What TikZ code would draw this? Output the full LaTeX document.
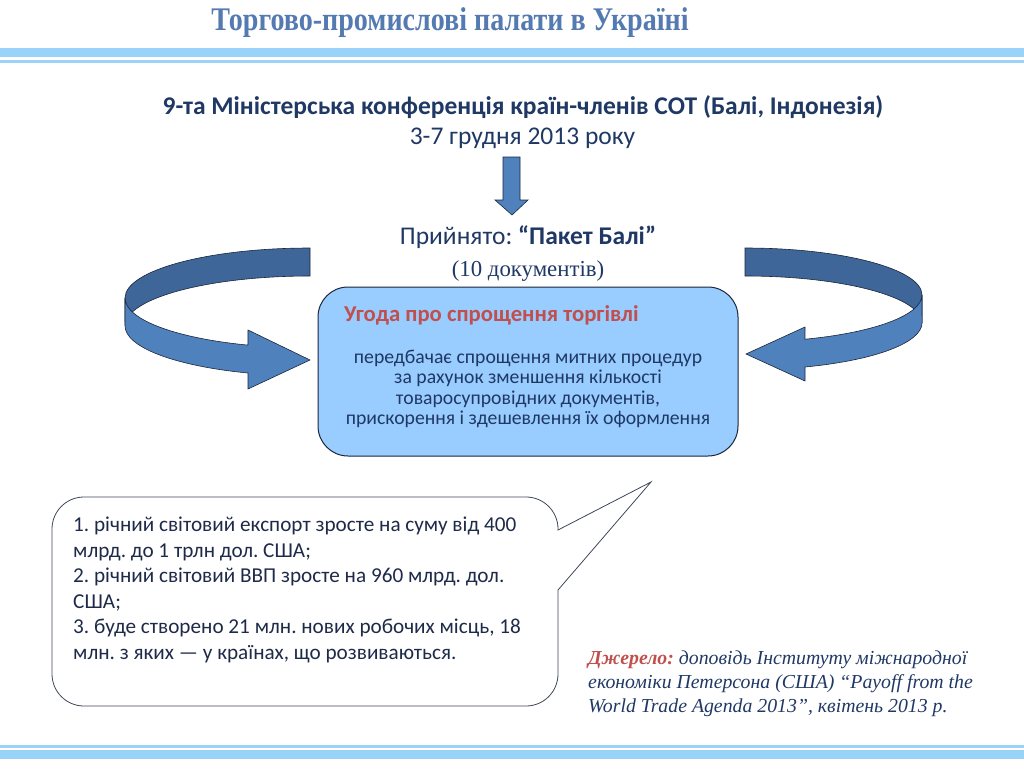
\documentclass[tikz,border=0pt]{standalone}
\usepackage{fontspec}
\setmainfont{Carlito}
\newfontfamily\timesfont{Liberation Serif}
\newfontfamily\titlefont[FakeStretch=0.85]{Liberation Serif}
\usetikzlibrary{positioning}
\definecolor{slideBlue}{RGB}{84,122,178}
\definecolor{bandBlue}{RGB}{153,211,249}
\definecolor{textNavy}{RGB}{31,56,100}
\definecolor{calloutNavy}{RGB}{30,42,72}
\definecolor{boxBlue}{RGB}{153,204,255}
\definecolor{arrowFront}{RGB}{79,129,189}
\definecolor{arrowBack}{RGB}{62,102,152}
\definecolor{edgeDark}{RGB}{28,38,58}
\definecolor{sourceRed}{RGB}{192,80,77}
\frenchspacing

\begin{document}
\begin{tikzpicture}[x=1pt, y=-1pt,
    ribbon/.style={draw=edgeDark, line width=0.6pt},
    slidetext/.style={textNavy, inner sep=0pt}]
      \useasboundingbox (0,0) rectangle (1024,768);
      % header and footer bands
      \fill [bandBlue] (0,48) rectangle (1024,57);
      \fill [bandBlue] (0,60) rectangle (1024,63);
      \fill [bandBlue] (0,745) rectangle (1024,748);
      \fill [bandBlue] (0,750) rectangle (1024,759);

      \node [slideBlue, inner sep=0pt,
             font=\titlefont\bfseries\fontsize{33}{36}\selectfont]
            (title) at (450,23) {Торгово-промислові палати в Україні};

      \node [slidetext, font=\bfseries\fontsize{25.5}{28}\selectfont]
            (conference) at (523,107)
            {9-та Міністерська конференція країн-членів СОТ (Балі, Індонезія)};
      \node [slidetext, font=\fontsize{25.5}{28}\selectfont] (dates)
            at (522.5,138) {3-7 грудня 2013 року};

      \node [slidetext, font=\fontsize{25.5}{28}\selectfont]
            (package) at (528,237) {Прийнято: \textbf{“Пакет Балі”}};
      \node [slidetext, below=12pt of package,
             font=\timesfont\fontsize{22.8}{26}\selectfont] (documents)
            {(10 документів)};

      % down arrow
      \draw [ribbon, fill=arrowFront] (503,157) -- (520,157) -- (520,200)
            -- (528,200) -- (512,215) -- (495,200) -- (503,200) -- cycle;

      % left curved arrow
      \draw [ribbon, fill=arrowBack] (310,248)
            arc[start angle=270, end angle=180, x radius=185, y radius=50]
            -- (125,326)
            arc[start angle=180, end angle=270, x radius=185, y radius=50]
            -- cycle;
      \draw [ribbon, fill=arrowFront] (125,298)
            arc[start angle=180, end angle=109.6, x radius=185, y radius=50]
            -- (248,330) -- (310,360) -- (248,389) -- (248,373)
            arc[start angle=109.6, end angle=180, x radius=185, y radius=50]
            -- cycle;

      % right curved arrow
      \draw [ribbon, fill=arrowBack] (745,248)
            arc[start angle=270, end angle=360, x radius=177, y radius=47]
            -- (922,323)
            arc[start angle=360, end angle=270, x radius=177, y radius=47]
            -- cycle;
      \draw [ribbon, fill=arrowFront] (922,295)
            arc[start angle=0, end angle=70.2, x radius=177, y radius=47]
            -- (805,327) -- (746,354) -- (805,381) -- (805,367)
            arc[start angle=70.2, end angle=0, x radius=177, y radius=47]
            -- cycle;

      \node [draw=edgeDark, line width=1pt, fill=boxBlue,
             rounded corners=30pt, minimum width=420pt,
             minimum height=169pt] (agreement) at (528,371.5) {};
      \node [sourceRed, inner sep=0pt, anchor=west,
             font=\bfseries\fontsize{22.7}{26}\selectfont]
            (agreementtitle) at (344,315) {Угода про спрощення торгівлі};
      \node [slidetext, align=center, font=\fontsize{19.7}{20.3}\selectfont]
            (agreementtext) at (528,389)
            {передбачає спрощення митних процедур\\
             за рахунок зменшення кількості\\
             товаросупровідних документів,\\
             прискорення і здешевлення їх оформлення};

      % callout
      \draw [draw=edgeDark!85, line width=0.8pt]
            (558,590) [rounded corners=32pt] -- (558,706) -- (52,706)
            -- (52,497) -- (558,497) [sharp corners] -- (558,530)
            -- (651,482) -- cycle;
      \node [calloutNavy, inner sep=0pt, anchor=north west, align=left,
             font=\fontsize{21.2}{25.5}\selectfont] (effects) at (73,517)
            {1. річний світовий експорт зросте на суму від 400\\
             млрд. до 1 трлн дол. США;\\
             2. річний світовий ВВП зросте на 960 млрд. дол.\\
             США;\\
             3. буде створено 21 млн. нових робочих місць, 18\\
             млн. з яких — у країнах, що розвиваються.};

      \node [textNavy, inner sep=0pt, anchor=north west, align=left,
             font=\timesfont\itshape\fontsize{19.8}{24}\selectfont]
            (source) at (588,651)
            {\textcolor{sourceRed}{\bfseries Джерело:} доповідь Інституту міжнародної\\
             економіки Петерсона (США) “Payoff from the\\
             World Trade Agenda 2013”, квітень 2013 р.};
    \end{tikzpicture}
\end{document}
